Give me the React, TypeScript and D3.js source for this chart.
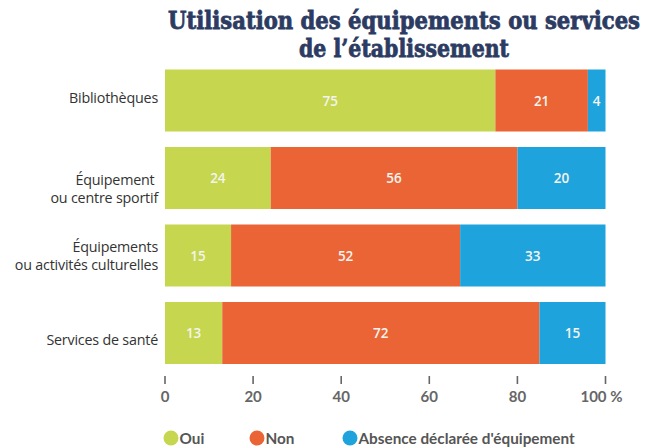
import React from "react";
import * as d3 from "d3";

const categories = [
  ["Bibliothèques"],
  ["Équipement ", "ou centre sportif"],
  ["Équipements", "ou activités culturelles"],
  ["Services de santé"],
];
const oui = [75, 24, 15, 13];
const non = [21, 56, 52, 72];
const absence = [4, 20, 33, 15];
const seriesNames = ["Oui", "Non", "Absence déclarée d'équipement"];
const colors = ["#c6d64e", "#ea6436", "#1fa3dd"];
const ticks = [0, 20, 40, 60, 80, 100];
const titleLines = ["Utilisation des équipements ou services", "de l’établissement"];

export default function App() {
  const W = 649, H = 448;
  const x = d3.scaleLinear().domain([0, 100]).range([165, 605.5]);
  const y = d3.scaleBand<number>().domain(d3.range(categories.length)).range([61.75, 371.75]).paddingInner(0.2).paddingOuter(0.1);
  const rows = categories.map((c, i) => ({ i, Oui: oui[i], Non: non[i], Abs: absence[i] }));
  const stack = d3.stack<any>().keys(["Oui", "Non", "Abs"])(rows);
  const labelFont = "'Open Sans', 'Noto Sans', sans-serif";
  const legendX = [171, 257, 350];
  // first-baseline offset of each category label from its band centre (layout)
  const labelShift = [2.5, 7, -3.5, 12];
  const titleWidths = [472, 210];
  return (
    <div style={{ position: "absolute", left: 0, top: 0, width: W, height: H, overflow: "hidden" }}>
      <svg width={W} height={H} style={{ display: "block", background: "#fff" }}>
        {titleLines.map((t, i) => (
          <text key={i} transform={`translate(404, ${29 + i * 28}) scale(1, 1.14)`} x={0} y={0} textAnchor="middle" fontFamily="'DejaVu Serif', serif" fontWeight="bold" fontSize={21} textLength={titleWidths[i]} lengthAdjust="spacingAndGlyphs" fill="#2c3b62" stroke="#2c3b62" strokeWidth={0.7}>{t}</text>
        ))}
        {stack.map((s, k) => (
          <g key={k}>
            {s.map((d, i) => {
              const x0 = x(d[0]), x1 = x(d[1]);
              const yy = y(i)!;
              const v = d[1] - d[0];
              return (
                <g key={i}>
                  <rect x={x0} y={yy} width={x1 - x0} height={y.bandwidth()} fill={colors[k]} />
                  <text x={(x0 + x1) / 2} y={yy + y.bandwidth() / 2 + 5} textAnchor="middle" fontFamily={labelFont} fontWeight="600" fontSize={13.5} fill="#f4f4ee">{v}</text>
                </g>
              );
            })}
          </g>
        ))}
        {categories.map((lines, i) => {
          const cy = y(i)! + y.bandwidth() / 2;
          return (
            <text key={i} textAnchor="end" fontFamily={labelFont} fontSize={14.3} fill="#333" letterSpacing={-0.2}>
              {lines.map((l, j) => (
                <tspan key={j} x={158} y={cy + labelShift[i] + j * 18}>{l}</tspan>
              ))}
            </text>
          );
        })}
        {ticks.map((t) => (
          <g key={t}>
            <line x1={x(t)} x2={x(t)} y1={376} y2={384} stroke="#666" strokeWidth={1.6} />
            <text x={x(t)} y={402} textAnchor="middle" dx={t === 100 ? -4 : 0} fontFamily="Lato, sans-serif" fontWeight="bold" fontSize={15} fill="#666">{t === 100 ? "100 %" : t}</text>
          </g>
        ))}
        {seriesNames.map((n, i) => (
          <g key={n}>
            <circle cx={legendX[i]} cy={438} r={7.5} fill={colors[i]} />
            <text x={legendX[i] + 8.5} y={443.5} fontFamily="Lato, sans-serif" fontWeight="bold" fontSize={15.3} fill="#555">{n}</text>
          </g>
        ))}
      </svg>
    </div>
  );
}
